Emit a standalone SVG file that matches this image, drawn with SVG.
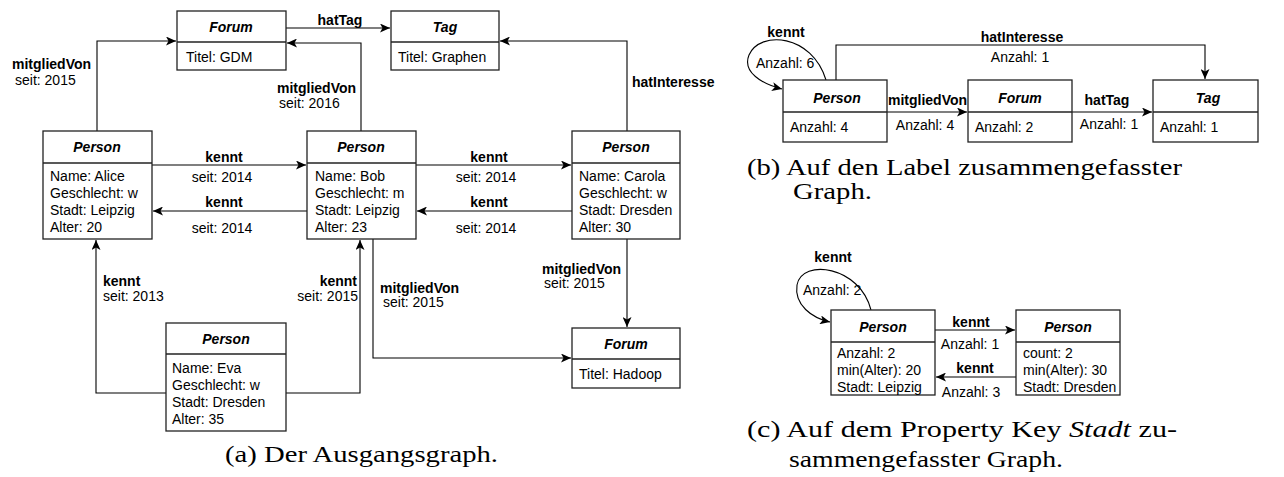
<svg xmlns="http://www.w3.org/2000/svg" width="1284" height="477" viewBox="0 0 1284 477">
<defs>
<style>
.box{fill:#fff;stroke:#222;stroke-width:1.3}
.div{stroke:#222;stroke-width:1.3;fill:none}
.edge{fill:none;stroke:#000;stroke-width:1.1}
text{font-family:"Liberation Sans",Arial,sans-serif;font-size:14px;fill:#000}
.hd{font-weight:bold;font-style:italic;text-anchor:middle}
.lb{font-weight:bold}
.c{text-anchor:middle}
.e{text-anchor:end}
.cap{font-family:"Liberation Serif","Times New Roman",serif;font-size:23.5px}
</style>
<marker id="ah" markerUnits="userSpaceOnUse" markerWidth="11" markerHeight="9" refX="10" refY="4.5" orient="auto">
<path d="M0,0 L10,4.5 L0,9 L2.5,4.5 z" fill="#000"/>
</marker>
</defs>

<!-- connectors -->
<g id="connectors">
<!-- panel a -->
<path class="edge" d="M286,28 H390" marker-end="url(#ah)"/>
<path class="edge" d="M97,131 V41 H176" marker-end="url(#ah)"/>
<path class="edge" d="M361,131 V43 H287" marker-end="url(#ah)"/>
<path class="edge" d="M627,131 V41 H500" marker-end="url(#ah)"/>
<path class="edge" d="M152,165 H306" marker-end="url(#ah)"/>
<path class="edge" d="M307,211 H153" marker-end="url(#ah)"/>
<path class="edge" d="M416,165 H571" marker-end="url(#ah)"/>
<path class="edge" d="M572,211 H417" marker-end="url(#ah)"/>
<path class="edge" d="M166,393 H96 V240" marker-end="url(#ah)"/>
<path class="edge" d="M286,393 H360 V240" marker-end="url(#ah)"/>
<path class="edge" d="M373,239 V358 H571" marker-end="url(#ah)"/>
<path class="edge" d="M627,239 V327" marker-end="url(#ah)"/>
<!-- panel b -->
<path class="edge" d="M887,112 H967" marker-end="url(#ah)"/>
<path class="edge" d="M1072,112 H1152" marker-end="url(#ah)"/>
<path class="edge" d="M836,80 V45 H1205 V79" marker-end="url(#ah)"/>
<path class="edge" d="M826,80 C812,34 760,30 749,55 C742,72 762,84 782,89" marker-end="url(#ah)"/>
<!-- panel c -->
<path class="edge" d="M935,330 H1015" marker-end="url(#ah)"/>
<path class="edge" d="M1016,377 H936" marker-end="url(#ah)"/>
<path class="edge" d="M871,310 C860,266 802,258 797,285 C794,305 812,318 830,322" marker-end="url(#ah)"/>
</g>

<!-- edge labels -->
<g id="edge-labels">
<text class="lb c" x="340" y="25">hatTag</text>
<text class="lb" x="12" y="69">mitgliedVon</text>
<text x="15" y="85">seit: 2015</text>
<text class="lb" x="277" y="93">mitgliedVon</text>
<text x="279" y="108">seit: 2016</text>
<text class="lb" x="632" y="87">hatInteresse</text>
<text class="lb c" x="224" y="162">kennt</text>
<text class="c" x="222" y="182">seit: 2014</text>
<text class="lb c" x="224" y="207">kennt</text>
<text class="c" x="222" y="233">seit: 2014</text>
<text class="lb c" x="489" y="162">kennt</text>
<text class="c" x="486" y="182">seit: 2014</text>
<text class="lb c" x="489" y="207">kennt</text>
<text class="c" x="486" y="233">seit: 2014</text>
<text class="lb" x="103" y="286">kennt</text>
<text x="103" y="301">seit: 2013</text>
<text class="lb e" x="357" y="286">kennt</text>
<text class="e" x="358" y="301">seit: 2015</text>
<text class="lb" x="380" y="293">mitgliedVon</text>
<text x="383" y="307">seit: 2015</text>
<text class="lb" x="542" y="274">mitgliedVon</text>
<text x="544" y="288">seit: 2015</text>
<!-- b -->
<text class="lb c" x="786" y="37">kennt</text>
<text x="756" y="68">Anzahl: 6</text>
<text class="lb c" x="1022" y="42">hatInteresse</text>
<text class="c" x="1020" y="62">Anzahl: 1</text>
<text class="lb" x="888" y="105">mitgliedVon</text>
<text class="c" x="925" y="130">Anzahl: 4</text>
<text class="lb c" x="1107" y="105">hatTag</text>
<text class="c" x="1109" y="129">Anzahl: 1</text>
<!-- c -->
<text class="lb c" x="833" y="262">kennt</text>
<text x="803" y="295">Anzahl: 2</text>
<text class="lb c" x="971" y="327">kennt</text>
<text class="c" x="970" y="349">Anzahl: 1</text>
<text class="lb c" x="975" y="373">kennt</text>
<text class="c" x="971" y="397">Anzahl: 3</text>
</g>

<!-- panel a nodes -->
<g id="forum-gdm">
<rect class="box" x="177" y="11" width="109" height="59"/>
<path class="div" d="M177,42 H286"/>
<text class="hd" x="231" y="32">Forum</text>
<text x="186" y="62">Titel: GDM</text>
</g>
<g id="tag-graphen">
<rect class="box" x="391" y="11" width="108" height="59"/>
<path class="div" d="M391,42 H499"/>
<text class="hd" x="445" y="32">Tag</text>
<text x="398" y="62">Titel: Graphen</text>
</g>
<g id="person-alice">
<rect class="box" x="43" y="131" width="109" height="108"/>
<path class="div" d="M43,163 H152"/>
<text class="hd" x="97" y="152">Person</text>
<text x="50" y="181">Name: Alice</text>
<text x="50" y="198">Geschlecht: w</text>
<text x="50" y="215">Stadt: Leipzig</text>
<text x="50" y="232">Alter: 20</text>
</g>
<g id="person-bob">
<rect class="box" x="307" y="131" width="109" height="108"/>
<path class="div" d="M307,163 H416"/>
<text class="hd" x="361" y="152">Person</text>
<text x="315" y="181">Name: Bob</text>
<text x="315" y="198">Geschlecht: m</text>
<text x="315" y="215">Stadt: Leipzig</text>
<text x="315" y="232">Alter: 23</text>
</g>
<g id="person-carola">
<rect class="box" x="572" y="131" width="108" height="108"/>
<path class="div" d="M572,163 H680"/>
<text class="hd" x="626" y="152">Person</text>
<text x="579" y="181">Name: Carola</text>
<text x="579" y="198">Geschlecht: w</text>
<text x="579" y="215">Stadt: Dresden</text>
<text x="579" y="232">Alter: 30</text>
</g>
<g id="person-eva">
<rect class="box" x="166" y="323" width="120" height="108"/>
<path class="div" d="M166,354 H286"/>
<text class="hd" x="226" y="344">Person</text>
<text x="172" y="373">Name: Eva</text>
<text x="172" y="390">Geschlecht: w</text>
<text x="172" y="407">Stadt: Dresden</text>
<text x="172" y="424">Alter: 35</text>
</g>
<g id="forum-hadoop">
<rect class="box" x="572" y="328" width="108" height="60"/>
<path class="div" d="M572,359 H680"/>
<text class="hd" x="626" y="349">Forum</text>
<text x="579" y="379">Titel: Hadoop</text>
</g>

<!-- panel b nodes -->
<g id="b-person">
<rect class="box" x="783" y="80" width="104" height="62"/>
<path class="div" d="M783,112 H887"/>
<text class="hd" x="837" y="103">Person</text>
<text x="790" y="132">Anzahl: 4</text>
</g>
<g id="b-forum">
<rect class="box" x="968" y="80" width="104" height="62"/>
<path class="div" d="M968,112 H1072"/>
<text class="hd" x="1020" y="103">Forum</text>
<text x="975" y="132">Anzahl: 2</text>
</g>
<g id="b-tag">
<rect class="box" x="1153" y="80" width="105" height="62"/>
<path class="div" d="M1153,112 H1258"/>
<text class="hd" x="1208" y="103">Tag</text>
<text x="1160" y="132">Anzahl: 1</text>
</g>

<!-- panel c nodes -->
<g id="c-person-leipzig">
<rect class="box" x="831" y="310" width="104" height="85"/>
<path class="div" d="M831,342 H935"/>
<text class="hd" x="883" y="332">Person</text>
<text x="837" y="358">Anzahl: 2</text>
<text x="837" y="375">min(Alter): 20</text>
<text x="837" y="392">Stadt: Leipzig</text>
</g>
<g id="c-person-dresden">
<rect class="box" x="1016" y="310" width="104" height="85"/>
<path class="div" d="M1016,342 H1120"/>
<text class="hd" x="1068" y="332">Person</text>
<text x="1023" y="358">count: 2</text>
<text x="1023" y="375">min(Alter): 30</text>
<text x="1023" y="392">Stadt: Dresden</text>
</g>

<!-- captions -->
<g id="captions">
<text class="cap" x="225" y="462" textLength="273" lengthAdjust="spacingAndGlyphs">(a) Der Ausgangsgraph.</text>
<text class="cap" x="747" y="175" textLength="435" lengthAdjust="spacingAndGlyphs">(b) Auf den Label zusammengefasster</text>
<text class="cap" x="793" y="199" textLength="79" lengthAdjust="spacingAndGlyphs">Graph.</text>
<text class="cap" x="747" y="437" textLength="430" lengthAdjust="spacingAndGlyphs">(c) Auf dem Property Key <tspan font-style="italic">Stadt</tspan> zu-</text>
<text class="cap" x="789" y="467" textLength="274" lengthAdjust="spacingAndGlyphs">sammengefasster Graph.</text>
</g>
</svg>
